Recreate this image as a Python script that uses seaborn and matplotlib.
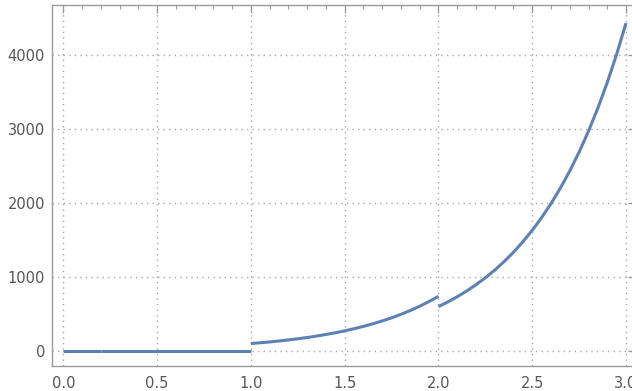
import matplotlib
matplotlib.use("Agg")
import matplotlib.pyplot as plt
from matplotlib.ticker import MultipleLocator
import pandas as pd
import seaborn as sns

# ─── Data (piecewise curve) ──────────────────────────────────────────────────
seg1a_x = [0.0, 0.2]
seg1a_y = [0, 0]
seg1b_x = [0.2, 0.6, 1.0]
seg1b_y = [3, 3, 3]
seg2_x = [1.0, 1.05, 1.1, 1.15, 1.2, 1.25, 1.3, 1.35, 1.4, 1.45, 1.5,
          1.55, 1.6, 1.65, 1.7, 1.75, 1.8, 1.85, 1.9, 1.95, 2.0]
seg2_y = [100, 111, 122, 135, 149, 165, 182, 201, 223, 246, 272,
          301, 332, 367, 406, 448, 495, 547, 605, 669, 739]
seg3_x = [2.0, 2.05, 2.1, 2.15, 2.2, 2.25, 2.3, 2.35, 2.4, 2.45, 2.5,
          2.55, 2.6, 2.65, 2.7, 2.75, 2.8, 2.85, 2.9, 2.95, 3.0]
seg3_y = [600, 663, 733, 810, 895, 989, 1093, 1208, 1335, 1476, 1631,
          1803, 1992, 2202, 2433, 2689, 2972, 3285, 3630, 4012, 4433]

x_ticks = [0.0, 0.5, 1.0, 1.5, 2.0, 2.5, 3.0]
y_ticks = [0, 1000, 2000, 3000, 4000]

line_color = "#5E81B5"
frame_color = "#9a9a9a"
label_color = "#555555"

sns.set_style("white")
plt.rcParams["font.family"] = ["DejaVu Sans"]

fig = plt.figure(figsize=(6.32, 3.91), dpi=100)
W, H = 632, 391
ax = fig.add_axes([52 / W, (H - 366) / H, (636 - 52) / W, (366 - 5) / H])

segments = [(seg1a_x, seg1a_y), (seg1b_x, seg1b_y),
            (seg2_x, seg2_y), (seg3_x, seg3_y)]
for xs, ys in segments:
    df = pd.DataFrame({"x": xs, "y": ys})
    line = sns.lineplot(data=df, x="x", y="y", ax=ax, color=line_color,
                        linewidth=2.2, estimator=None, sort=False)
for ln in ax.get_lines():
    ln.set_solid_capstyle("butt")
    ln.set_solid_joinstyle("round")

ax.set_xlim(-0.06, 3.053)
ax.set_ylim(-203, 4676)
ax.set_xlabel("")
ax.set_ylabel("")

ax.set_xticks(x_ticks)
ax.set_xticklabels([f"{v:.1f}" for v in x_ticks])
ax.set_yticks(y_ticks)
ax.set_yticklabels([str(v) for v in y_ticks])
ax.xaxis.set_minor_locator(MultipleLocator(0.1))
ax.yaxis.set_minor_locator(MultipleLocator(200))

ax.grid(True, which="major", linestyle=(0, (1, 3)), color="#a8a8a8",
        linewidth=1.0)
ax.set_axisbelow(True)

for side in ["left", "bottom", "top", "right"]:
    ax.spines[side].set_visible(True)
    ax.spines[side].set_color(frame_color)
    ax.spines[side].set_linewidth(1.0)

ax.tick_params(axis="both", which="major", direction="in", length=6,
               width=0.9, color=frame_color, labelcolor=label_color,
               labelsize=10.5, top=True, right=True)
ax.tick_params(axis="both", which="minor", direction="in", length=3,
               width=0.8, color=frame_color, top=True, right=True)
ax.tick_params(axis="x", which="major", pad=7)
ax.tick_params(axis="y", which="major", pad=5)

fig.savefig("out.png", dpi=100)
